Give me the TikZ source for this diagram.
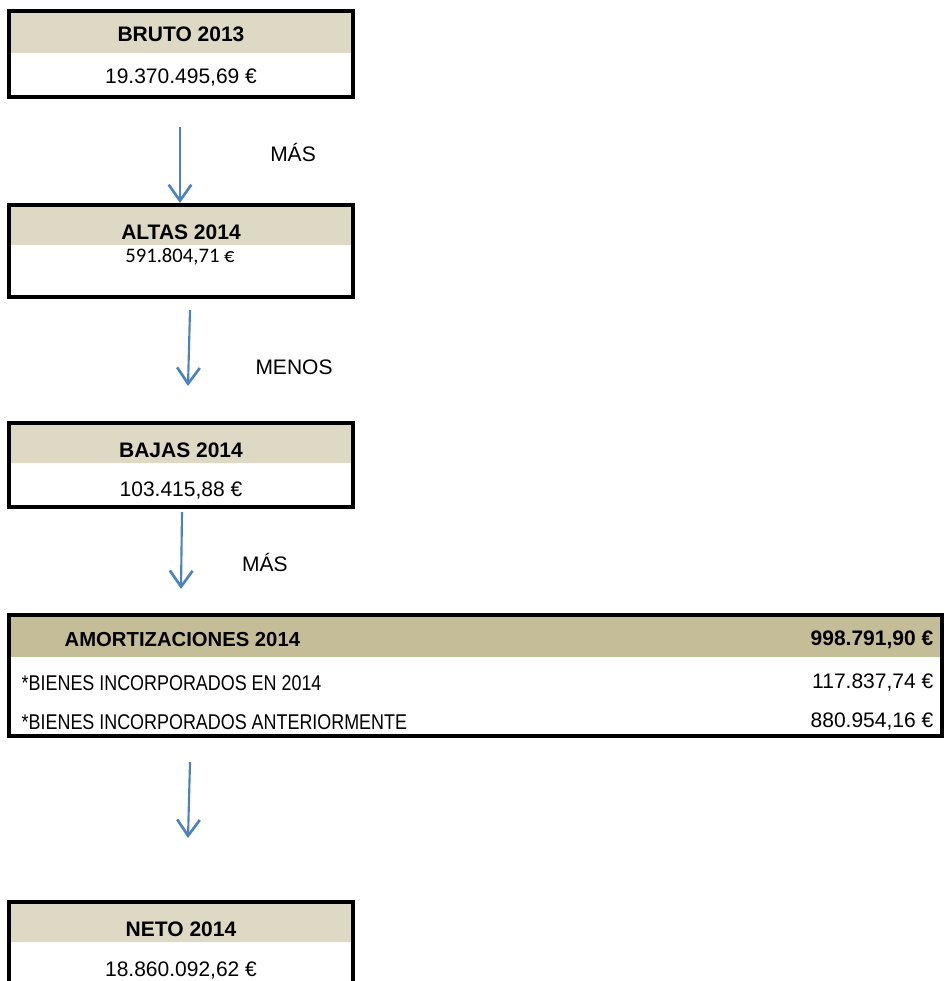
\documentclass[tikz,border=0pt]{standalone}
\usepackage{fontspec}
\setmainfont{Liberation Sans}
\newfontfamily\calibrifont{Carlito}
\newfontfamily\estrecha[FakeStretch=0.84]{Liberation Sans}
\usetikzlibrary{arrows.meta}

\definecolor{cabecera}{HTML}{DDD9C4}
\definecolor{cabeceraosc}{HTML}{C4BD97}
\definecolor{flecha}{HTML}{4F81BD}

\tikzset{
    caja/.style={draw=black, line width=2.3pt},
    titulo/.style={font=\fontsize{15.75}{18}\selectfont\bfseries},
    valor/.style={font=\fontsize{15.75}{18}\selectfont},
    fila/.style={font=\fontsize{16}{18}\estrecha},
    flechaazul/.style={draw=flecha, line width=1.6pt, -{Straight Barb[length=12pt,width=17pt,line width=2pt]}}
}

\begin{document}
\begin{tikzpicture}[x=0.75pt, y=-0.75pt]
        \useasboundingbox (0, 0) rectangle (945, 981);
        \clip (0, 0) rectangle (945, 981);

        % cabeceras
        \fill[cabecera] (9, 11) rectangle (353, 53)
            (9, 205) rectangle (353, 245)
            (9, 423) rectangle (353, 463)
            (9, 902) rectangle (353, 942);
        \fill[cabeceraosc] (9, 615) rectangle (942, 657);

        \draw[caja] (9, 11) rectangle (353, 97)
            (9, 205) rectangle (353, 297)
            (9, 423) rectangle (353, 507)
            (9, 615) rectangle (942, 736)
            (9, 1000) rectangle (353, 902);

        \draw node[titulo] (bruto) at (181, 34) {BRUTO 2013}
            node[valor] (vbruto) at (181, 78) {19.370.495,69 €}
            node[titulo] (altas) at (181, 232) {ALTAS 2014}
            node[valor, font=\fontsize{15.5}{18}\calibrifont] (valtas) at (180, 257) {591.804,71 €}
            node[titulo] (bajas) at (181, 450) {BAJAS 2014}
            node[valor] (vbajas) at (181, 491) {103.415,88 €}
            node[titulo, font=\fontsize{15.2}{18}\selectfont\bfseries, anchor=west] (amort) at (60, 640) {AMORTIZACIONES 2014}
            node[titulo, anchor=east] (vamort) at (938, 640) {998.791,90 €}
            node[fila, anchor=west] (inc) at (17, 683) {*BIENES INCORPORADOS EN 2014}
            node[valor, anchor=east] (vinc) at (938, 683) {117.837,74 €}
            node[fila, anchor=west] (ant) at (17, 722) {*BIENES INCORPORADOS ANTERIORMENTE}
            node[valor, anchor=east] (vant) at (938, 722) {880.954,16 €}
            node[titulo] (neto) at (181, 929) {NETO 2014}
            node[valor] (vneto) at (181, 970) {18.860.092,62 €};

        % etiquetas
        \draw node[valor] (mas1) at (293, 152) {MÁS}
            node[valor] (menos) at (294, 367) {MENOS}
            node[valor] (mas2) at (265, 562) {MÁS};

        \draw coordinate (f1a) at (180, 127)
            coordinate (f1b) at (180, 203)
            coordinate (f2a) at (190, 310)
            coordinate (f2b) at (188, 386)
            coordinate (f3a) at (182, 512)
            coordinate (f3b) at (181, 589)
            coordinate (f4a) at (190, 762)
            coordinate (f4b) at (188, 838);

        \foreach \n in {1, 2, 3, 4}
            \draw[flechaazul] (f\n a) -- (f\n b);
    \end{tikzpicture}
\end{document}
